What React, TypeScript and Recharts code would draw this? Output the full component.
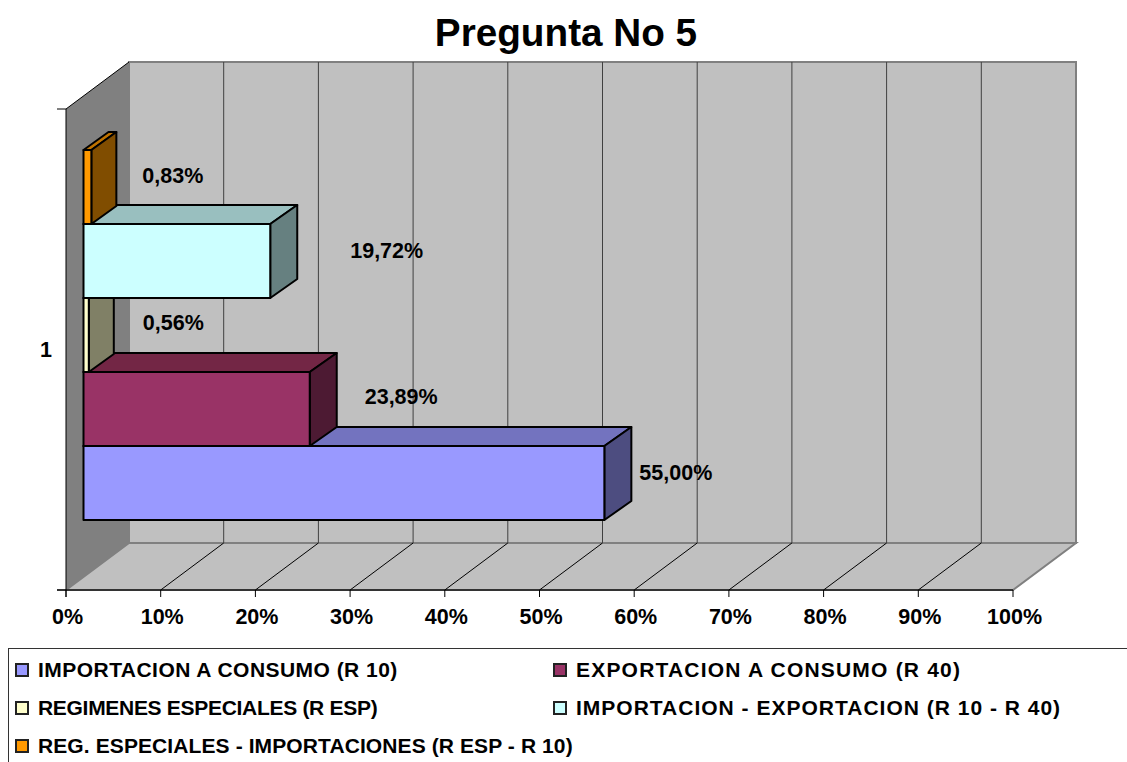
import { BarChart, Bar, XAxis, YAxis, Legend, CartesianGrid } from 'recharts';

const categories = ['1'];
const seriesNames = [
  'IMPORTACION A CONSUMO (R 10)',
  'EXPORTACION A CONSUMO (R 40)',
  'REGIMENES ESPECIALES (R ESP)',
  'IMPORTACION - EXPORTACION (R 10 - R 40)',
  'REG. ESPECIALES - IMPORTACIONES (R ESP - R 10)',
];
const seriesValues = [55.0, 23.89, 0.56, 19.72, 0.83];
const seriesColors = ['#9999FF', '#993366', '#FFFFCC', '#CCFFFF', '#FF9900'];
const topColors = ['#7373BF', '#732645', '#BFBF99', '#99BFBF', '#BF7300'];
const sideColors = ['#4D4D80', '#4D1A33', '#808066', '#668080', '#804D00'];
const xTicks = [0, 10, 20, 30, 40, 50, 60, 70, 80, 90, 100];

// data labels sit loosely beside the bars in the original
const labelDx = [36, 56, 55, 81, 52];
const labelDy = [-10, -12, -12, -10, -11];
// the original legend text has uneven spacing
const legendSpacing = [0.46, 1.2, -0.3, 1, 0.1];

const chartData = categories.map((cat) => {
  const row: Record<string, string | number> = { cat };
  seriesValues.forEach((v, i) => {
    row[`s${i}`] = v;
  });
  return row;
});

const FONT = '"Liberation Sans", Arial, sans-serif';

// 3D frame of the plot
const LEFT = 66;
const RIGHT = 1013;
const TOP = 109;
const BOTTOM = 590;
const DEPTH_X = 63;
const DEPTH_Y = 47;
// bars sit partway into the depth
const BAR_SHIFT_X = 17.5;
const BAR_SHIFT_Y = 15;
const MID_Y = (TOP + BOTTOM) / 2;

const pts = (list: number[][]) => list.map((p) => p.join(',')).join(' ');

const Box3D = (props: any) => {
  const { seriesIndex, x, y, width, height } = props;
  // recharts puts the first series on top, the original has it at the bottom
  const left = x + BAR_SHIFT_X;
  const top = 2 * MID_Y - y - height - BAR_SHIFT_Y;
  const right = left + width;
  const bottom = top + height;
  // the thin bars have a slightly shorter depth in the original
  const dx = width < 10 ? 25 : 27;
  const dy = width < 10 ? 18 : 19;
  const line = { stroke: '#000', strokeWidth: 2, strokeLinejoin: 'round' as const };
  return (
    <g>
      <polygon
        points={pts([[left, top], [left + dx, top - dy], [right + dx, top - dy], [right, top]])}
        fill={topColors[seriesIndex]}
        {...line}
      />
      <polygon
        points={pts([[right, top], [right + dx, top - dy], [right + dx, bottom - dy], [right, bottom]])}
        fill={sideColors[seriesIndex]}
        {...line}
      />
      <rect x={left} y={top} width={width} height={height} fill={seriesColors[seriesIndex]} {...line} />
      <text
        x={right + labelDx[seriesIndex] - 1}
        y={(top + bottom) / 2 + labelDy[seriesIndex]}
        fontFamily={FONT}
        fontWeight="bold"
        fontSize={21.5}
        fill="#000"
        dominantBaseline="central"
      >
        {seriesValues[seriesIndex].toFixed(2).replace('.', ',')}%
      </text>
    </g>
  );
};

// floor diagonal plus the line on the back wall, one per x tick
const gridLine3D = (props: any) => {
  const { x1, index } = props;
  if (index === 0 || index === xTicks.length - 1) return <g key={index} />;
  return (
    <g key={index}>
      <line x1={x1} y1={BOTTOM} x2={x1 + DEPTH_X} y2={BOTTOM - DEPTH_Y} stroke="#000" strokeWidth={1} />
      <line x1={x1 + DEPTH_X} y1={BOTTOM - DEPTH_Y} x2={x1 + DEPTH_X} y2={TOP - DEPTH_Y} stroke="#404040" strokeWidth={1} />
    </g>
  );
};

const XTick = (props: any) => {
  const { x, y, payload } = props;
  return (
    <g>
      <line x1={x} y1={BOTTOM} x2={x} y2={BOTTOM + 7} stroke="#000" />
      <text
        x={x + 1.5}
        y={y + 26}
        textAnchor="middle"
        fontFamily={FONT}
        fontWeight="bold"
        fontSize={21.5}
        fill="#000"
      >
        {payload.value}%
      </text>
    </g>
  );
};

const LegendBox = ({ payload }: any) => (
  <div
    style={{
      position: 'relative',
      height: 114,
      borderTop: '1px solid #333',
      borderLeft: '1px solid #333',
      fontFamily: FONT,
      fontWeight: 'bold',
      fontSize: 21,
      color: '#000',
    }}
  >
    {seriesNames.map((name, i) => {
      const entry = (payload || []).find((p: any) => p.value === name);
      return (
        <div
          key={name}
          style={{
            position: 'absolute',
            left: i % 2 === 0 ? 6 : 544,
            top: 9 + Math.floor(i / 2) * 38,
            display: 'flex',
            alignItems: 'center',
            whiteSpace: 'nowrap',
            lineHeight: '24px',
            letterSpacing: legendSpacing[i],
          }}
        >
          <span
            style={{
              width: 10,
              height: 10,
              marginRight: 9,
              border: '2px solid #222',
              background: entry ? entry.color : seriesColors[i],
            }}
          />
          {name}
        </div>
      );
    })}
  </div>
);

// walls and floor sit in their own svg behind the transparent chart
const Frame = () => (
  <svg width={1127} height={762} style={{ position: 'absolute', left: 0, top: 0 }}>
    <polygon
      points={pts([[LEFT, TOP], [LEFT + DEPTH_X, TOP - DEPTH_Y], [LEFT + DEPTH_X, BOTTOM - DEPTH_Y], [LEFT, BOTTOM]])}
      fill="#808080"
    />
    <rect
      x={LEFT + DEPTH_X}
      y={TOP - DEPTH_Y}
      width={RIGHT - LEFT}
      height={BOTTOM - TOP}
      fill="#C0C0C0"
      stroke="#808080"
      strokeWidth={2}
    />
    <polygon
      points={pts([[LEFT, BOTTOM], [LEFT + DEPTH_X, BOTTOM - DEPTH_Y], [RIGHT + DEPTH_X, BOTTOM - DEPTH_Y], [RIGHT, BOTTOM]])}
      fill="#C0C0C0"
      stroke="#808080"
      strokeWidth={2}
    />
    <line x1={LEFT} y1={TOP} x2={LEFT + DEPTH_X} y2={TOP - DEPTH_Y} stroke="#000" />
    <line x1={LEFT - 9} y1={TOP} x2={LEFT} y2={TOP} stroke="#000" />
    <line x1={LEFT - 9} y1={BOTTOM} x2={RIGHT} y2={BOTTOM} stroke="#333" strokeWidth={2} />
    <line x1={LEFT} y1={TOP} x2={LEFT} y2={BOTTOM + 7} stroke="#000" />
  </svg>
);

export default function App() {
  return (
    <div style={{ position: 'absolute', left: 0, top: 0, width: 1127, height: 762, background: '#fff' }}>
      <Frame />
      <BarChart
        width={1127}
        height={762}
        data={chartData}
        layout="vertical"
        margin={{ top: TOP, right: 1127 - RIGHT, bottom: 28, left: LEFT - 40 }}
        barCategoryGap={55}
        barGap={0}
      >
        <text x={566} y={46} textAnchor="middle" fontFamily={FONT} fontWeight="bold" fontSize={38.7} fill="#000">
          Pregunta No 5
        </text>

        <CartesianGrid horizontal={false} vertical={gridLine3D} stroke="#404040" />

        <XAxis
          type="number"
          domain={[0, 100]}
          ticks={xTicks}
          interval={0}
          height={30}
          axisLine={false}
          tickLine={false}
          tick={<XTick />}
        />
        <YAxis
          type="category"
          dataKey="cat"
          width={40}
          axisLine={false}
          tickLine={false}
          tick={{ fill: '#000', fontSize: 21.5, fontWeight: 'bold', fontFamily: FONT, dx: -6 }}
        />
        <Legend
          verticalAlign="bottom"
          height={114}
          wrapperStyle={{ left: 8, top: 648, bottom: 'auto', width: 1119, height: 114 }}
          content={<LegendBox />}
        />
        {seriesNames.map((name, i) => (
          <Bar
            key={name}
            dataKey={`s${i}`}
            name={name}
            fill={seriesColors[i]}
            isAnimationActive={false}
            shape={(p: any) => <Box3D {...p} seriesIndex={i} />}
          />
        ))}
      </BarChart>
    </div>
  );
}
